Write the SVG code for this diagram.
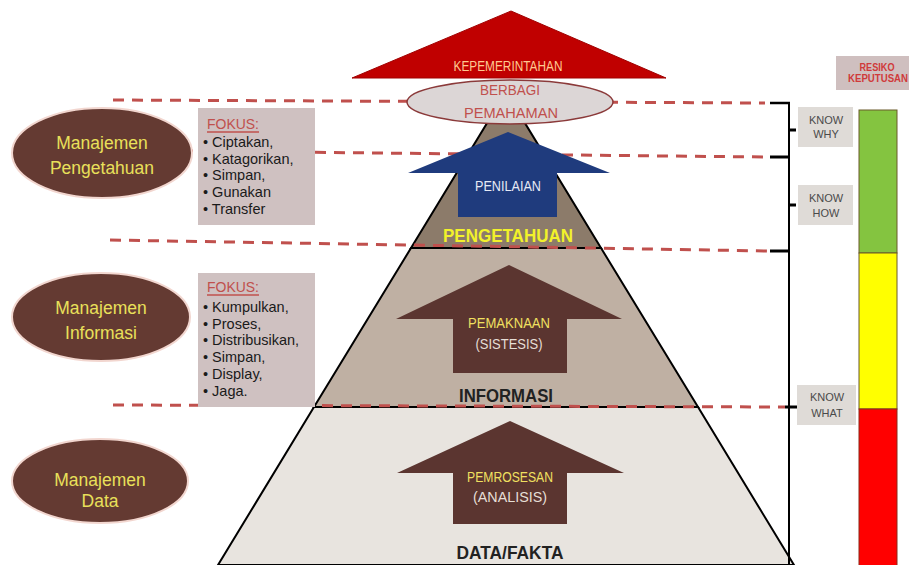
<svg xmlns="http://www.w3.org/2000/svg" width="909" height="565" viewBox="0 0 909 565">
<style>
.f{font-family:"Liberation Sans",Arial,sans-serif}
.dash{stroke:#c0504d;stroke-width:3;stroke-dasharray:11 8;fill:none}
.blk{stroke:#000;fill:none}
.mgr{fill:#643a32;stroke:#f2d6cf;stroke-width:2}
.mtx{fill:#e9e05a;font-size:17.5px;text-anchor:middle}
.fok{fill:#cfc1c1}
.fh{fill:#c0504d;font-size:15px}
.fi{fill:#1a1a1a;font-size:14.5px}
.kb{fill:#dfdbd7}
.kt{fill:#4a4a4a;font-size:11px;text-anchor:middle}
.arb{fill:#5b3530}
.c{text-anchor:middle}
</style>
<rect width="909" height="565" fill="#ffffff"/>

<g id="pyramid">
<g id="level-data"><polygon points="314,407 698,407 794,565 218,565" fill="#e8e4df" stroke="#000" stroke-width="2"/></g>
<g id="level-informasi"><polygon points="411,248 601,248 698,407 314,407" fill="#bfb0a3" stroke="#000" stroke-width="2"/></g>
<g id="level-pengetahuan"><polygon points="506,92 601,248 411,248" fill="#8c7b6a" stroke="#000" stroke-width="2"/></g>
</g>

<g id="connectors">
<line class="dash" x1="113" y1="100" x2="765" y2="103"/>
<line class="dash" x1="182" y1="151" x2="765" y2="157"/>
<line class="dash" x1="110" y1="240" x2="768" y2="251"/>
<line class="dash" x1="113" y1="405" x2="785" y2="407"/>
<g id="bracket">
<line class="blk" stroke-width="2" x1="789" y1="102" x2="789" y2="565"/>
<line class="blk" stroke-width="2.5" x1="770" y1="103" x2="790" y2="103"/>
<line class="blk" stroke-width="3" x1="770" y1="157" x2="790" y2="157"/>
<line class="blk" stroke-width="3" x1="770" y1="251" x2="790" y2="251"/>
<line class="blk" stroke-width="3" x1="785" y1="407" x2="797" y2="407"/>
<line class="blk" stroke-width="3" x1="789" y1="130" x2="796" y2="130"/>
<line class="blk" stroke-width="3" x1="789" y1="205" x2="796" y2="205"/>
</g>
</g>

<g id="fokus-pengetahuan">
<rect class="fok" x="198" y="108" width="117" height="117"/>
<text class="f fh" x="207" y="129" textLength="52" lengthAdjust="spacingAndGlyphs">FOKUS:</text>
<line x1="207" y1="132" x2="259" y2="132" stroke="#c0504d" stroke-width="1.3"/>
<text class="f fi" x="203" y="147">• Ciptakan,</text>
<text class="f fi" x="203" y="164">• Katagorikan,</text>
<text class="f fi" x="203" y="180">• Simpan,</text>
<text class="f fi" x="203" y="197">• Gunakan</text>
<text class="f fi" x="203" y="214">• Transfer</text>
</g>
<g id="fokus-informasi">
<rect class="fok" x="198" y="273" width="117" height="134"/>
<text class="f fh" x="207" y="292" textLength="52" lengthAdjust="spacingAndGlyphs">FOKUS:</text>
<line x1="207" y1="295" x2="259" y2="295" stroke="#c0504d" stroke-width="1.3"/>
<text class="f fi" x="203" y="312">• Kumpulkan,</text>
<text class="f fi" x="203" y="329">• Proses,</text>
<text class="f fi" x="203" y="345">• Distribusikan,</text>
<text class="f fi" x="203" y="362">• Simpan,</text>
<text class="f fi" x="203" y="379">• Display,</text>
<text class="f fi" x="203" y="396">• Jaga.</text>
</g>

<g id="manajemen-pengetahuan">
<ellipse class="mgr" cx="102" cy="153" rx="90" ry="45"/>
<text class="f mtx" x="102" y="149">Manajemen</text>
<text class="f mtx" x="102" y="174">Pengetahuan</text>
</g>
<g id="manajemen-informasi">
<ellipse class="mgr" cx="101" cy="317" rx="89" ry="44"/>
<text class="f mtx" x="101" y="314">Manajemen</text>
<text class="f mtx" x="101" y="339">Informasi</text>
</g>
<g id="manajemen-data">
<ellipse class="mgr" cx="100" cy="481" rx="88" ry="42"/>
<text class="f mtx" x="100" y="486">Manajemen</text>
<text class="f mtx" x="100" y="507">Data</text>
</g>

<g id="arrow-penilaian">
<polygon points="508,132 610,173 557,173 557,217 458,217 458,173 408,173" fill="#1f3b7d"/>
<text class="f c" x="508" y="191" fill="#e6eaf5" font-size="14" textLength="66" lengthAdjust="spacingAndGlyphs">PENILAIAN</text>
</g>
<g id="label-pengetahuan"><text class="f c" x="508" y="242" fill="#f2f22a" font-size="17.5" font-weight="bold" textLength="130" lengthAdjust="spacingAndGlyphs">PENGETAHUAN</text></g>

<g id="arrow-pemaknaan">
<polygon class="arb" points="509,265 622,319 567,319 567,373 453,373 453,319 396,319"/>
<text class="f c" x="509" y="328" fill="#f0e060" font-size="14" textLength="82" lengthAdjust="spacingAndGlyphs">PEMAKNAAN</text>
<text class="f c" x="509" y="349" fill="#e6ded6" font-size="14" textLength="67" lengthAdjust="spacingAndGlyphs">(SISTESIS)</text>
</g>
<g id="label-informasi"><text class="f c" x="506" y="402" fill="#222" font-size="17.5" font-weight="bold" textLength="94" lengthAdjust="spacingAndGlyphs">INFORMASI</text></g>

<g id="arrow-pemrosesan">
<polygon class="arb" points="510,421 624,473 567,473 567,524 453,524 453,473 397,473"/>
<text class="f c" x="510" y="482" fill="#f0e060" font-size="14" textLength="86" lengthAdjust="spacingAndGlyphs">PEMROSESAN</text>
<text class="f c" x="510" y="502" fill="#e6ded6" font-size="14" textLength="74" lengthAdjust="spacingAndGlyphs">(ANALISIS)</text>
</g>
<g id="label-data"><text class="f c" x="510" y="559" fill="#222" font-size="17.5" font-weight="bold" textLength="107" lengthAdjust="spacingAndGlyphs">DATA/FAKTA</text></g>

<g id="kepemerintahan">
<polygon points="511,11 666,78 352,78" fill="#c00000" stroke="#a00000" stroke-width="1"/>
<text class="f c" x="508" y="71" fill="#ffc890" font-size="14" textLength="109" lengthAdjust="spacingAndGlyphs">KEPEMERINTAHAN</text>
</g>

<g id="berbagi-pemahaman">
<ellipse cx="510" cy="102" rx="103" ry="22" fill="#dcd6d6" stroke="#8b3a3a" stroke-width="1.5"/>
<text class="f c" x="510" y="95" fill="#c0504d" font-size="15" textLength="60" lengthAdjust="spacingAndGlyphs">BERBAGI</text>
<text class="f c" x="511" y="118" fill="#c0504d" font-size="15" textLength="94" lengthAdjust="spacingAndGlyphs">PEMAHAMAN</text>
</g>

<g id="know-why">
<rect class="kb" x="798" y="107" width="55" height="40"/>
<text class="f kt" x="826" y="124">KNOW</text>
<text class="f kt" x="826" y="138">WHY</text>
</g>
<g id="know-how">
<rect class="kb" x="798" y="185" width="55" height="40"/>
<text class="f kt" x="826" y="202">KNOW</text>
<text class="f kt" x="826" y="217">HOW</text>
</g>
<g id="know-what">
<rect class="kb" x="797" y="385" width="59" height="40"/>
<text class="f kt" x="827" y="401">KNOW</text>
<text class="f kt" x="827" y="417">WHAT</text>
</g>

<g id="resiko-keputusan">
<rect x="836" y="56" width="73" height="34" fill="#cfbfbf"/>
<text class="f c" x="877" y="71" fill="#d03a3a" font-size="10" font-weight="bold" textLength="35" lengthAdjust="spacingAndGlyphs">RESIKO</text>
<text class="f c" x="878" y="82" fill="#d03a3a" font-size="10" font-weight="bold" textLength="60" lengthAdjust="spacingAndGlyphs">KEPUTUSAN</text>
</g>
<g id="risk-bar">
<rect x="859" y="110" width="38" height="143" fill="#84c440" stroke="#6a5a2a" stroke-width="1"/>
<rect x="859" y="253" width="38" height="156" fill="#ffff00" stroke="#6a5a2a" stroke-width="1"/>
<rect x="859" y="409" width="38" height="160" fill="#ff0000" stroke="#8a2a1a" stroke-width="1"/>
</g>
</svg>
